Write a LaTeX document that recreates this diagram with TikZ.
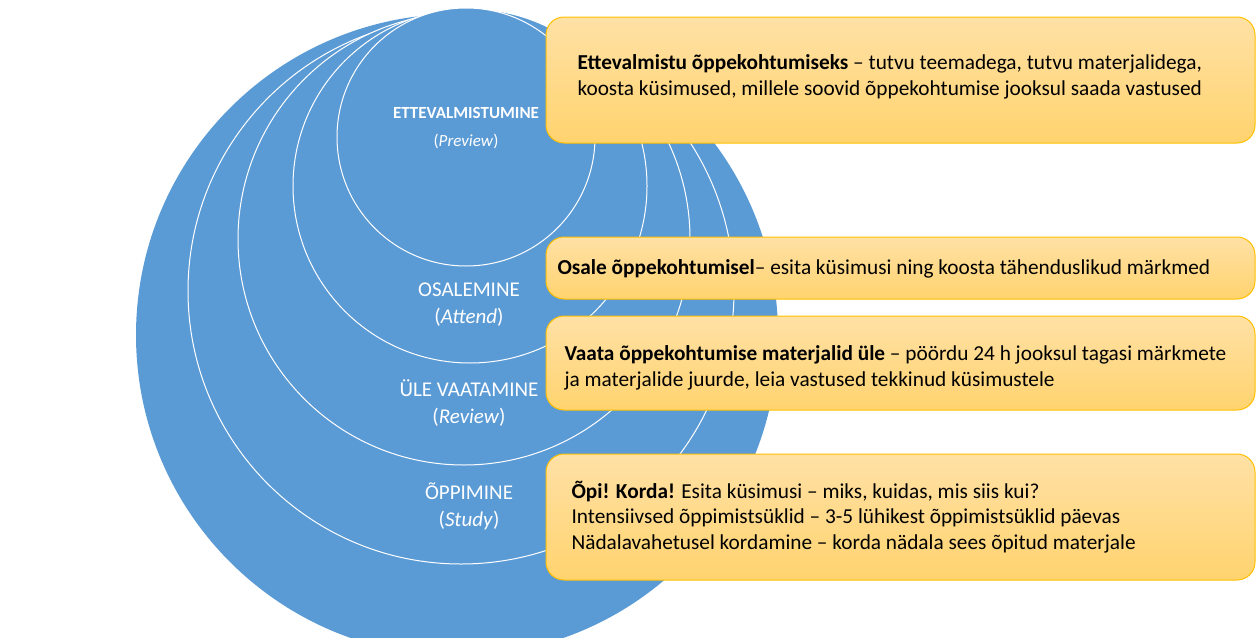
\documentclass[tikz,border=0pt]{standalone}
\usepackage{fontspec}
\setmainfont{Carlito}
\begin{document}
\begin{tikzpicture}[x=1pt,y=-1pt,
  ring/.style={draw=white,line width=1pt,fill=blueC},
  box/.style={draw=boxB,line width=1pt,rounded corners=18pt,top color=boxT,bottom color=boxBot},
  lab/.style={text=white,align=center,font=\fontsize{21}{27}\selectfont},
  btxt/.style={anchor=west,align=left,font=\fontsize{21.3}{25.5}\selectfont}]
\definecolor{blueC}{HTML}{5B9BD5}
\definecolor{boxB}{HTML}{FFC000}
\definecolor{boxT}{HTML}{FFE1A6}
\definecolor{boxBot}{HTML}{FFD36E}
\useasboundingbox (0,0) rectangle (1260,637);
\clip (0,0) rectangle (1260,637);
\fill[blueC] (457,335) circle[radius=321];
\draw[ring] (461,291) circle[radius=273];
\draw[ring] (464,239) circle[radius=226];
\draw[ring] (470,186) circle[radius=177];
\draw[ring] (466,137) circle[radius=129];
\node[lab,font=\bfseries\fontsize{17}{20}\selectfont] (l1) at (466,113) {ETTEVALMISTUMINE};
\node[lab,font=\fontsize{17}{20}\selectfont] (l1b) at (466,141) {(\textit{Preview})};
\node[lab] (l2) at (469,305) {OSALEMINE\\(\textit{Attend})};
\node[lab] (l3) at (469,403) {ÜLE VAATAMINE\\(\textit{Review})};
\node[lab] (l4) at (469,506) {ÕPPIMINE\\(\textit{Study})};
\draw[box] (546,17) rectangle (1255,143);
\draw[box] (546,237) rectangle (1255,299);
\draw[box] (546,316) rectangle (1255,410);
\draw[box] (546,454) rectangle (1255,580);
\node[btxt] (t1) at (574,77) {\textbf{Ettevalmistu õppekohtumiseks} – tutvu teemadega, tutvu materjalidega,\\koosta küsimused, millele soovid õppekohtumise jooksul saada vastused};
\node[btxt] (t2) at (554,269) {\textbf{Osale õppekohtumisel}– esita küsimusi ning koosta tähenduslikud märkmed};
\node[btxt] (t3) at (561,368) {\textbf{Vaata õppekohtumise materjalid üle} – pöördu 24 h jooksul tagasi märkmete\\ja materjalide juurde, leia vastused tekkinud küsimustele};
\node[btxt] (t4) at (568,517) {\textbf{Õpi! Korda!} Esita küsimusi – miks, kuidas, mis siis kui?\\Intensiivsed õppimistsüklid – 3-5 lühikest õppimistsüklid päevas\\Nädalavahetusel kordamine – korda nädala sees õpitud materjale};
\end{tikzpicture}
\end{document}
